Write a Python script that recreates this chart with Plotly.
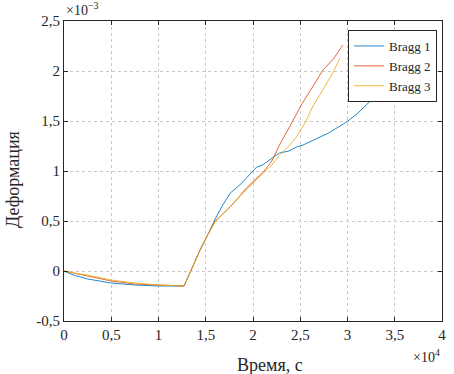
import plotly.graph_objects as go

# time in units of 1e4 s, strain in units of 1e-3
t_b1 = [0, 0.1, 0.25, 0.5, 0.75, 1.0, 1.27, 1.35, 1.44, 1.52, 1.6, 1.68, 1.76, 1.86, 1.95,
        2.04, 2.1, 2.18, 2.28, 2.38, 2.46, 2.53, 2.65, 2.8, 2.99, 3.1, 3.23, 3.35, 3.5, 3.6]
y_b1 = [0, -0.04, -0.08, -0.12, -0.14, -0.15, -0.15, 0.02, 0.21, 0.36, 0.52, 0.66, 0.78, 0.86, 0.95,
        1.04, 1.06, 1.11, 1.18, 1.20, 1.24, 1.26, 1.31, 1.38, 1.49, 1.57, 1.69, 1.78, 1.93, 2.0]

t_b2 = [0, 0.1, 0.25, 0.5, 0.75, 1.0, 1.27, 1.35, 1.44, 1.52, 1.6, 1.68, 1.76, 1.85, 1.93,
        2.02, 2.11, 2.2, 2.28, 2.35, 2.42, 2.53, 2.63, 2.74, 2.85, 2.95]
y_b2 = [0, -0.02, -0.05, -0.10, -0.13, -0.14, -0.15, 0.02, 0.21, 0.36, 0.50, 0.57, 0.64, 0.74, 0.83,
        0.91, 0.99, 1.10, 1.26, 1.38, 1.50, 1.69, 1.84, 2.01, 2.12, 2.26]

t_b3 = [0, 0.1, 0.25, 0.5, 0.75, 1.0, 1.27, 1.35, 1.44, 1.52, 1.6, 1.7, 1.8, 1.9, 2.0,
        2.1, 2.2, 2.28, 2.37, 2.46, 2.55, 2.63, 2.7, 2.78, 2.85, 2.92]
y_b3 = [0, -0.02, -0.04, -0.09, -0.12, -0.14, -0.15, 0.02, 0.21, 0.36, 0.49, 0.59, 0.69, 0.79, 0.88,
        0.97, 1.06, 1.16, 1.24, 1.34, 1.48, 1.64, 1.75, 1.88, 1.99, 2.13]

names = ["Bragg 1", "Bragg 2", "Bragg 3"]
colors = ["#0072BD", "#D95319", "#EDB120"]

x_ticks = [0, 0.5, 1, 1.5, 2, 2.5, 3, 3.5, 4]
x_tick_labels = ["0", "0,5", "1", "1,5", "2", "2,5", "3", "3,5", "4"]
y_ticks = [-0.5, 0, 0.5, 1, 1.5, 2, 2.5]
y_tick_labels = ["-0,5", "0", "0,5", "1", "1,5", "2", "2,5"]

FONT = "Liberation Serif, Times New Roman, serif"
INK = "#262626"

fig = go.Figure()
for t, y, n, c in zip([t_b1, t_b2, t_b3], [y_b1, y_b2, y_b3], names, colors):
    fig.add_trace(go.Scatter(x=t, y=y, mode="lines", name=n, opacity=0.85,
                             line=dict(color=c, width=1)))

axis_common = dict(
    showline=True, linecolor=INK, linewidth=1, mirror="ticks",
    ticks="inside", ticklen=4, tickcolor=INK,
    showgrid=True, gridcolor="#c8c8c8", griddash="dot", gridwidth=1,
    zeroline=False, automargin=False,
    tickfont=dict(family=FONT, size=15, color=INK),
)

fig.update_layout(
    width=454, height=374,
    margin=dict(l=64, r=12, t=21, b=53, autoexpand=False),
    paper_bgcolor="white", plot_bgcolor="white",
    font=dict(family=FONT, size=15, color=INK),
    xaxis=dict(range=[0, 4], tickvals=x_ticks, ticktext=x_tick_labels, **axis_common),
    yaxis=dict(range=[-0.5, 2.5], tickvals=y_ticks, ticktext=y_tick_labels, **axis_common),
    legend=dict(x=0.987, y=0.97, xanchor="right", yanchor="top",
                bgcolor="white", bordercolor=INK, borderwidth=1,
                font=dict(family=FONT, size=13, color=INK),
                tracegroupgap=0, itemwidth=30),
    showlegend=True,
)

# axis titles
fig.add_annotation(text="Время, с", xref="paper", yref="paper",
                   x=0.545, y=0, xanchor="center", yanchor="middle", showarrow=False,
                   font=dict(family=FONT, size=18, color=INK), yshift=-44)
fig.add_annotation(text="Деформация", xref="paper", yref="paper", textangle=-90,
                   x=0, y=0.47, xanchor="center", yanchor="middle", showarrow=False,
                   font=dict(family=FONT, size=18, color=INK), xshift=-51)
# exponent multipliers
fig.add_annotation(text="×10<sup>−3</sup>", xref="paper", yref="paper",
                   x=0, y=1, xanchor="left", yanchor="middle", showarrow=False,
                   font=dict(family=FONT, size=14, color=INK), yshift=12)
fig.add_annotation(text="×10<sup>4</sup>", xref="paper", yref="paper",
                   x=1, y=0, xanchor="right", yanchor="middle", showarrow=False,
                   font=dict(family=FONT, size=14, color=INK), yshift=-35)

fig.write_html("out.html", config={"displayModeBar": False},
               post_script="document.body.style.margin='0';document.body.style.overflow='hidden';")
